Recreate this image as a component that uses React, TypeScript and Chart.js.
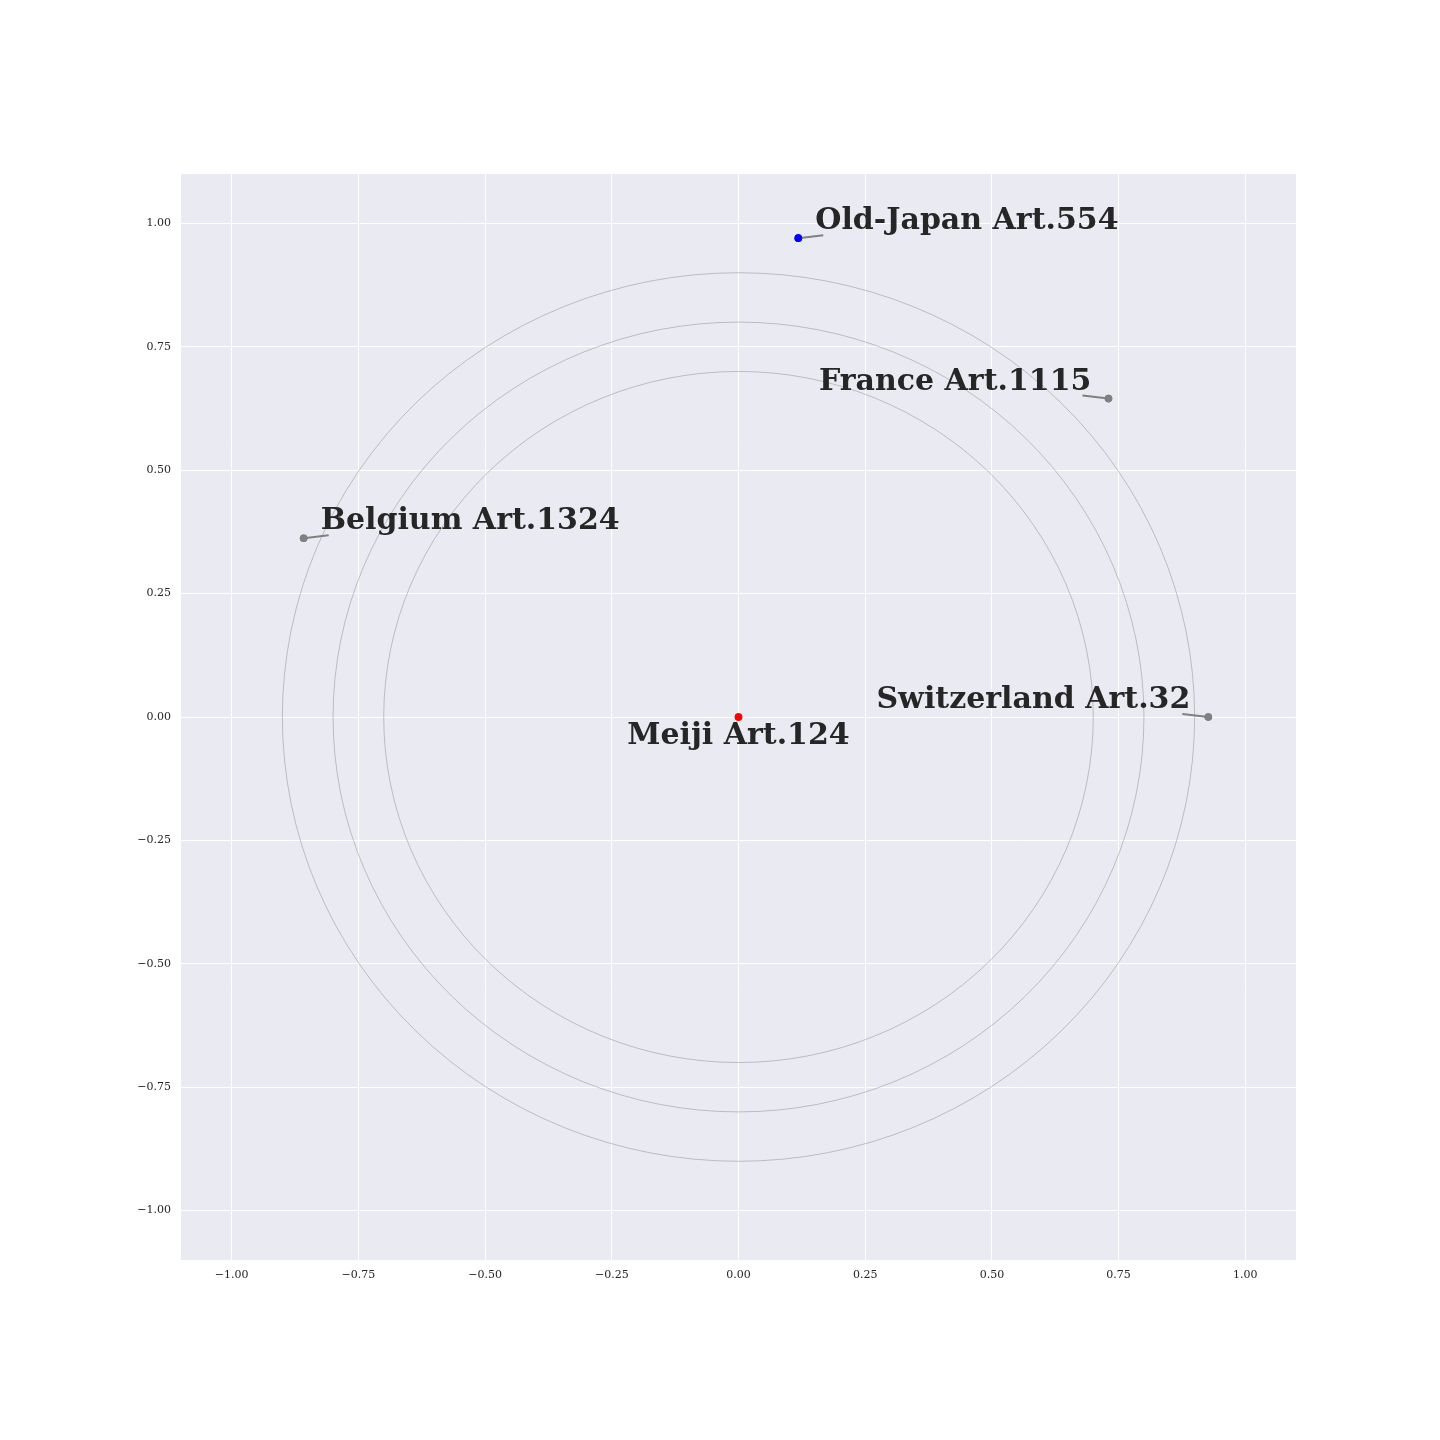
import React, { useEffect, useRef } from "react";
import { Chart, registerables } from "chart.js";

Chart.register(...registerables);

const labels = ["Meiji Art.124", "Old-Japan Art.554", "France Art.1115", "Belgium Art.1324", "Switzerland Art.32"];
const xValues = [0.0, 0.118, 0.73, -0.858, 0.927];
const yValues = [0.0, 0.97, 0.645, 0.362, 0.0];
const pointColors = ["#ff0000", "#0000ff", "#808080", "#808080", "#808080"];
const circleRadii = [0.7, 0.8, 0.9];
const tickValues = [-1.0, -0.75, -0.5, -0.25, 0.0, 0.25, 0.5, 0.75, 1.0];

// label placement (pixel offsets from the point, text alignment)
const labelStyle = [
  { dx: 0, dy: 27, align: "center", line: false },
  { dx: 17, dy: -9, align: "left", line: true },
  { dx: -17, dy: -9, align: "right", line: true },
  { dx: 17, dy: -9, align: "left", line: true },
  { dx: -18, dy: -9, align: "right", line: true },
];

const fmt = (v: number) => {
  const s = Math.abs(v).toFixed(2);
  return v < 0 ? "\u2212" + s : s;
};

const bgPlugin = {
  id: "bgPlugin",
  beforeDraw(chart: any) {
    const { ctx, chartArea } = chart;
    ctx.save();
    ctx.fillStyle = "#EAEAF2";
    ctx.fillRect(chartArea.left, chartArea.top, chartArea.right - chartArea.left, chartArea.bottom - chartArea.top);
    ctx.restore();
  },
  beforeDatasetsDraw(chart: any) {
    const { ctx, scales } = chart;
    const xs = scales.x;
    const ys = scales.y;
    const cx = xs.getPixelForValue(0);
    const cy = ys.getPixelForValue(0);
    ctx.save();
    ctx.strokeStyle = "#8c8c8c";
    ctx.lineWidth = 0.5;
    circleRadii.forEach((r) => {
      const rx = xs.getPixelForValue(r) - cx;
      const ry = cy - ys.getPixelForValue(r);
      ctx.beginPath();
      ctx.ellipse(cx, cy, rx, ry, 0, 0, Math.PI * 2);
      ctx.stroke();
    });
    ctx.restore();
  },
  afterDatasetsDraw(chart: any) {
    const { ctx, scales } = chart;
    ctx.save();
    labels.forEach((t, i) => {
      const px = scales.x.getPixelForValue(xValues[i]);
      const py = scales.y.getPixelForValue(yValues[i]);
      const st = labelStyle[i];
      if (st.line) {
        const ex = px + (st.dx > 0 ? 25 : -26);
        const ey = py - 3;
        ctx.strokeStyle = "#808080";
        ctx.lineWidth = 2;
        ctx.beginPath();
        ctx.moveTo(px, py);
        ctx.lineTo(ex, ey);
        ctx.stroke();
      }
    });
    // redraw points over connector lines
    labels.forEach((t, i) => {
      const px = scales.x.getPixelForValue(xValues[i]);
      const py = scales.y.getPixelForValue(yValues[i]);
      ctx.fillStyle = pointColors[i];
      ctx.beginPath();
      ctx.arc(px, py, 3.8, 0, Math.PI * 2);
      ctx.fill();
    });
    ctx.fillStyle = "#262626";
    ctx.font = "bold 30px 'DejaVu Serif'";
    ctx.textBaseline = "alphabetic";
    labels.forEach((t, i) => {
      const px = scales.x.getPixelForValue(xValues[i]);
      const py = scales.y.getPixelForValue(yValues[i]);
      const st = labelStyle[i];
      ctx.textAlign = st.align as CanvasTextAlign;
      ctx.fillText(t, px + st.dx, py + st.dy);
    });
    ctx.restore();
  },
};

export default function App() {
  const ref = useRef<HTMLCanvasElement | null>(null);
  useEffect(() => {
    if (!ref.current) return;
    const tickFont = { family: "'DejaVu Serif'", size: 11 };
    const axisCommon = (isY: boolean) => ({
      type: "linear" as const,
      min: -1.1,
      max: 1.1,
      border: { display: false },
      grid: { color: "#ffffff", lineWidth: 1, drawTicks: false },
      ticks: {
        font: tickFont,
        color: "#262626",
        padding: isY ? 10 : 9,
        callback: (v: any) => fmt(Number(v)),
      },
      afterBuildTicks: (scale: any) => {
        scale.ticks = tickValues.map((v) => ({ value: v }));
      },
      afterFit: (scale: any) => {
        if (isY) scale.width = 181;
        else scale.height = 180;
      },
    });
    const chart = new Chart(ref.current, {
      type: "scatter",
      data: {
        datasets: [
          {
            label: "points",
            data: xValues.map((x, i) => ({ x, y: yValues[i] })),
            pointBackgroundColor: pointColors,
            pointBorderWidth: 0,
            pointRadius: 3.8,
          },
        ],
      },
      options: {
        animation: false,
        responsive: false,
        devicePixelRatio: 1,
        layout: { padding: { top: 174, right: 144, left: 0, bottom: 0 } },
        plugins: { legend: { display: false }, tooltip: { enabled: false } },
        scales: {
          x: axisCommon(false),
          y: axisCommon(true),
        },
      },
      plugins: [bgPlugin],
    });
    return () => chart.destroy();
  }, []);
  return (
    <div style={{ position: "absolute", left: 0, top: 0, width: 1440, height: 1440, background: "#fff" }}>
      <canvas ref={ref} width={1440} height={1440} style={{ width: 1440, height: 1440 }} />
    </div>
  );
}
